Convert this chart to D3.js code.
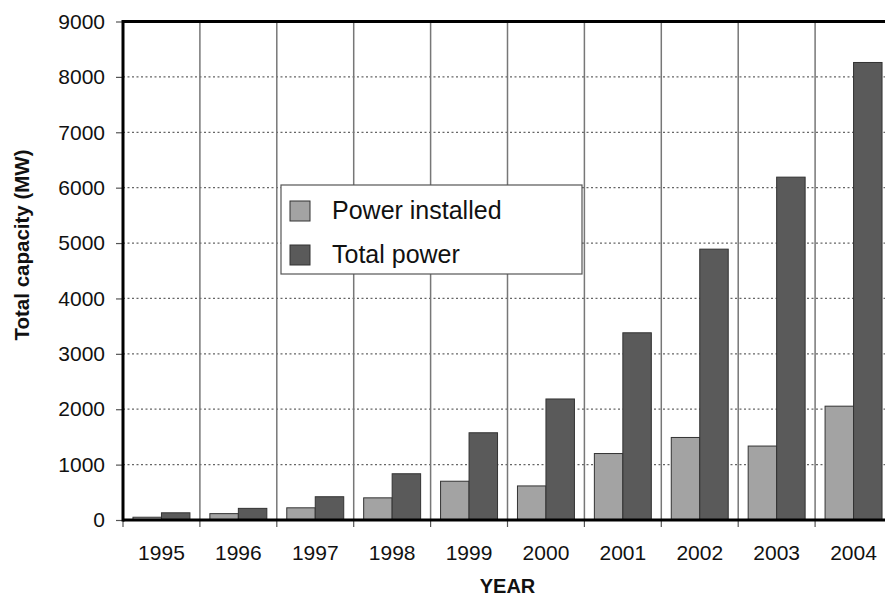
<!DOCTYPE html>
<html>
<head>
<meta charset="utf-8">
<script src="https://cdn.jsdelivr.net/npm/d3@7"></script>
<style>
  html, body { margin: 0; padding: 0; background: #fff; }
  svg { display: block; }
  text { font-family: "Liberation Sans", Arial, Helvetica, sans-serif; fill: #111; }
</style>
</head>
<body>
<svg id="chart" width="885" height="597"></svg>
<script>
const years = ["1995","1996","1997","1998","1999","2000","2001","2002","2003","2004"];
const seriesNames = ["Power installed", "Total power"];
const powerInstalled = [50, 115, 220, 400, 700, 615, 1200, 1490, 1335, 2055];
const totalPower = [130, 210, 420, 835, 1575, 2185, 3380, 4890, 6190, 8260];
const yTicks = [0, 1000, 2000, 3000, 4000, 5000, 6000, 7000, 8000, 9000];
const seriesColors = ["#a3a3a3", "#5a5a5a"];

const svg = d3.select("#chart");
const plotLeft = 123, plotRight = 892, plotTop = 21.5, plotBottom = 520;

const x = d3.scaleBand().domain(years).range([plotLeft, plotRight]).paddingInner(0).paddingOuter(0);
const x1 = d3.scaleBand().domain(seriesNames).range([0, x.bandwidth()]).paddingInner(0).paddingOuter(0.35);
const y = d3.scaleLinear().domain([0, 9000]).range([plotBottom, plotTop]);

const rows = years.map((yr, i) => ({ year: yr, values: [powerInstalled[i], totalPower[i]] }));

// horizontal dotted gridlines
svg.append("g").selectAll("line").data(yTicks.filter(t => t > 0 && t < 9000)).join("line")
  .attr("x1", plotLeft).attr("x2", 885)
  .attr("y1", d => y(d)).attr("y2", d => y(d))
  .attr("stroke", "#666").attr("stroke-width", 1.3).attr("stroke-dasharray", "2,2.5");

// vertical gridlines at band boundaries
svg.append("g").selectAll("line").data(years.slice(1)).join("line")
  .attr("x1", d => x(d)).attr("x2", d => x(d))
  .attr("y1", plotTop).attr("y2", plotBottom)
  .attr("stroke", "#777").attr("stroke-width", 1.5);

// bars
const groups = svg.append("g").selectAll("g").data(rows).join("g")
  .attr("transform", d => `translate(${x(d.year)},0)`);
groups.selectAll("rect").data(d => d.values.map((v, k) => ({ name: seriesNames[k], v, k }))).join("rect")
  .attr("x", d => x1(d.name))
  .attr("width", x1.bandwidth())
  .attr("y", d => y(d.v))
  .attr("height", d => y(0) - y(d.v))
  .attr("fill", d => seriesColors[d.k])
  .attr("stroke", "#333").attr("stroke-width", 1);

// y axis
const yAxis = d3.axisLeft(y).tickValues(yTicks).tickSize(7).tickPadding(11).tickFormat(d3.format("d"));
const gy = svg.append("g").attr("transform", `translate(${plotLeft},0)`).call(yAxis);
gy.select(".domain").remove();
gy.selectAll(".tick line").attr("stroke", "#555").attr("stroke-width", 1.2);
gy.selectAll(".tick text").attr("font-size", 21).attr("fill", "#111")
  .style("font-family", "'Liberation Sans', Arial, sans-serif");

// x axis (labels and boundary ticks)
const xAxis = d3.axisBottom(x).tickSize(0).tickPadding(25);
const gx = svg.append("g").attr("transform", `translate(0,${plotBottom})`).call(xAxis);
gx.select(".domain").remove();
gx.selectAll(".tick text").attr("font-size", 21).attr("fill", "#111")
  .style("font-family", "'Liberation Sans', Arial, sans-serif");
svg.append("g").selectAll("line").data(years).join("line")
  .attr("x1", d => x(d)).attr("x2", d => x(d))
  .attr("y1", plotBottom).attr("y2", plotBottom + 7)
  .attr("stroke", "#555").attr("stroke-width", 1.2);

// frame: left axis, top line, baseline
svg.append("line").attr("x1", plotLeft).attr("x2", plotLeft).attr("y1", plotTop - 1.5).attr("y2", plotBottom + 1.5)
  .attr("stroke", "#000").attr("stroke-width", 3);
svg.append("line").attr("x1", plotLeft).attr("x2", 885).attr("y1", plotTop).attr("y2", plotTop)
  .attr("stroke", "#000").attr("stroke-width", 3);
svg.append("line").attr("x1", plotLeft).attr("x2", 885).attr("y1", plotBottom).attr("y2", plotBottom)
  .attr("stroke", "#000").attr("stroke-width", 3);

// axis titles
svg.append("text").attr("transform", "translate(29,245) rotate(-90)")
  .attr("text-anchor", "middle").attr("font-size", 20.5).attr("font-weight", "bold")
  .text("Total capacity (MW)");
svg.append("text").attr("x", (plotLeft + plotRight) / 2).attr("y", 593)
  .attr("text-anchor", "middle").attr("font-size", 20).attr("font-weight", "bold")
  .text("YEAR");

// legend
const lg = svg.append("g").attr("transform", "translate(281,185)");
lg.append("rect").attr("width", 301).attr("height", 89).attr("fill", "#fff")
  .attr("stroke", "#555").attr("stroke-width", 1.2);
seriesNames.forEach((name, k) => {
  lg.append("rect").attr("x", 9).attr("y", 16 + k * 44).attr("width", 20).attr("height", 20)
    .attr("fill", seriesColors[k]).attr("stroke", "#333").attr("stroke-width", 1);
  lg.append("text").attr("x", 51).attr("y", 34 + k * 44).attr("font-size", 25).text(name);
});
</script>
</body>
</html>
